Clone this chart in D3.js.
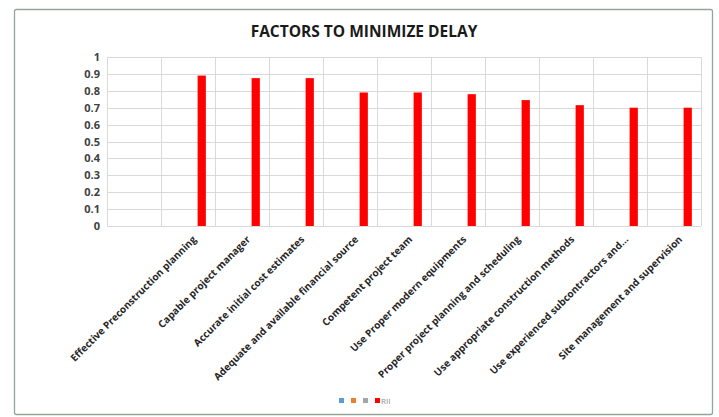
<!DOCTYPE html>
<html>
<head>
<meta charset="utf-8">
<script src="https://cdn.jsdelivr.net/npm/d3@7/dist/d3.min.js"></script>
<style>
  html, body { margin: 0; padding: 0; background: #fff; }
  svg { display: block; }
</style>
</head>
<body>
<svg id="chart" width="719" height="417"></svg>
<script>
// Categories (the first slot is an empty category in the source sheet)
const categories = [
  "",
  "Effective Preconstruction planning",
  "Capable project manager",
  "Accurate initial cost estimates",
  "Adequate and available financial source",
  "Competent project team",
  "Use Proper modern equipments",
  "Proper project planning and scheduling",
  "Use appropriate construction methods",
  "Use experienced subcontractors and...",
  "Site management and supervision"
];
// Relative Importance Index per factor
const rii = [null, 0.89, 0.875, 0.875, 0.79, 0.79, 0.78, 0.745, 0.715, 0.70, 0.70];
// Series in the clustered layout; only RII carries values
const seriesNames = ["", "", "", "RII"];
const seriesColors = ["#5b9bd5", "#ed7d31", "#a5a5a5", "#ff0000"];
const yTicks = [0, 0.1, 0.2, 0.3, 0.4, 0.5, 0.6, 0.7, 0.8, 0.9, 1];
const title = "FACTORS TO MINIMIZE DELAY";

const font = "'Open Sans', Lato, 'DejaVu Sans', sans-serif";
const svg = d3.select("#chart");

// Chart frame
svg.append("rect")
  .attr("x", 14.5).attr("y", 9.5)
  .attr("width", 698).attr("height", 405)
  .attr("rx", 2)
  .attr("fill", "#fff")
  .attr("stroke", "#93a69c")
  .attr("stroke-width", 1.3);

const plot = { left: 107, right: 701, top: 57, bottom: 226 };

const x = d3.scaleBand()
  .domain(d3.range(categories.length))
  .range([plot.left, plot.right])
  .paddingInner(0).paddingOuter(0);

const xSeries = d3.scaleBand()
  .domain(d3.range(seriesNames.length))
  .range([0, x.bandwidth()])
  .paddingInner(0.1)
  .paddingOuter(1.0);

const y = d3.scaleLinear().domain([0, 1]).range([plot.bottom, plot.top]);

const g = svg.append("g");

// Horizontal gridlines
g.append("g")
  .selectAll("line")
  .data(yTicks)
  .join("line")
  .attr("x1", plot.left).attr("x2", plot.right)
  .attr("y1", d => Math.round(y(d)) + 0.5)
  .attr("y2", d => Math.round(y(d)) + 0.5)
  .attr("stroke", "#d9d9d9")
  .attr("stroke-width", 1);

// Vertical gridlines at category boundaries
const bounds = d3.range(categories.length + 1).map(i =>
  i < categories.length ? x(i) : x(categories.length - 1) + x.bandwidth());
g.append("g")
  .selectAll("line")
  .data(bounds)
  .join("line")
  .attr("x1", d => Math.round(d) + 0.5).attr("x2", d => Math.round(d) + 0.5)
  .attr("y1", plot.top).attr("y2", plot.bottom)
  .attr("stroke", "#d9d9d9")
  .attr("stroke-width", 1);

// Y axis tick labels
const yAxis = d3.axisLeft(y).tickValues(yTicks).tickSize(0).tickPadding(0)
  .tickFormat(d => d === 0 ? "0" : d === 1 ? "1" : d3.format(".1f")(d));
const yG = g.append("g")
  .attr("transform", `translate(${plot.left - 7},0)`)
  .call(yAxis);
yG.select(".domain").remove();
yG.selectAll("text")
  .attr("font-family", font)
  .attr("font-size", 11)
  .attr("font-weight", "bold")
  .attr("fill", "#404040");

// RII bars (4th slot of each cluster)
g.append("g")
  .selectAll("rect")
  .data(rii.map((v, i) => ({ i, v })).filter(d => d.v != null))
  .join("rect")
  .attr("x", d => x(d.i) + xSeries(3))
  .attr("width", xSeries.bandwidth())
  .attr("y", d => y(d.v))
  .attr("height", d => y(0) - y(d.v))
  .attr("fill", seriesColors[3]);

// Rotated category labels
const xAxis = d3.axisBottom(x).tickSize(0).tickPadding(0)
  .tickFormat(i => categories[i]);
const xG = g.append("g")
  .attr("transform", `translate(0,${plot.bottom})`)
  .call(xAxis);
xG.select(".domain").remove();
xG.selectAll("text")
  .attr("font-family", font)
  .attr("font-size", 10)
  .attr("font-weight", "bold")
  .attr("fill", "#262626")
  .attr("text-anchor", "end")
  .attr("dy", null)
  .attr("y", 0)
  .attr("transform", "translate(9,14) rotate(-45)");

// Title
svg.append("text")
  .attr("x", 364).attr("y", 37)
  .attr("text-anchor", "middle")
  .attr("font-family", font)
  .attr("font-size", 15.5)
  .attr("font-weight", "bold")
  .attr("fill", "#1a1a1a")
  .text(title);

// Legend
const legend = svg.append("g").attr("transform", "translate(339,398)");
seriesNames.forEach((name, i) => {
  legend.append("rect")
    .attr("x", i * 12).attr("y", 0)
    .attr("width", 5).attr("height", 5)
    .attr("fill", seriesColors[i]);
  if (name) {
    legend.append("text")
      .attr("x", i * 12 + 6).attr("y", 5.5)
      .attr("font-family", font)
      .attr("font-size", 8)
      .attr("fill", "#8c8c8c")
      .text(name);
  }
});
</script>
</body>
</html>
